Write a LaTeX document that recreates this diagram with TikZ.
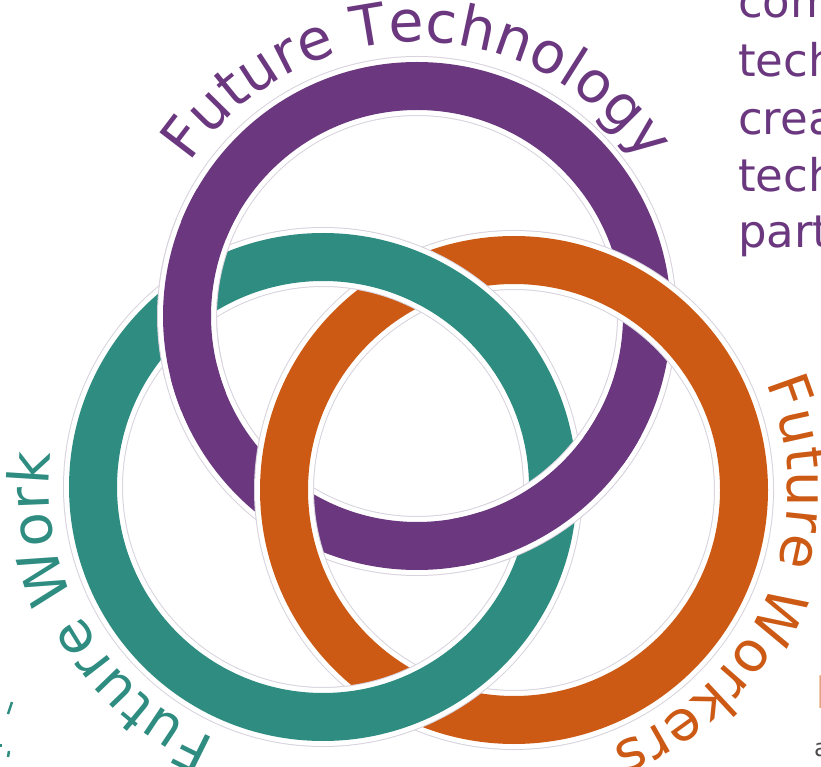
\documentclass[tikz,border=0pt]{standalone}
\usepackage{fontspec}
\usetikzlibrary{decorations.text}
\newfontfamily\ringfont{DejaVu Sans}
\definecolor{purpC}{RGB}{107,56,128}
\definecolor{tealC}{RGB}{46,140,128}
\definecolor{oranC}{RGB}{204,90,20}
\definecolor{edgeC}{RGB}{215,210,220}
\begin{document}
\begin{tikzpicture}[x=1pt,y=1pt,
  ring/.style={preaction={draw=edgeC,line width=60pt},preaction={draw=white,line width=58pt},line width=48pt},
  halo/.style={preaction={draw=edgeC,line width=60pt},draw=white,line width=58pt},
  band/.style={line width=48pt},
  ringtext/.style={decorate,decoration={text along path,text align=fit to path,text color=#1}},
  sidetext/.style={font=\ringfont\fontsize{45}{50}\selectfont,text=purpC,anchor=base west,inner sep=0pt}]
\useasboundingbox (0,0) rectangle (821,766);
\clip (0,0) rectangle (821,766);
\coordinate (P) at (417,450);
\coordinate (T) at (323,279);
\coordinate (O) at (514,276);
% rings
\draw[ring,draw=purpC] (P) circle[radius=230];
\draw[ring,draw=oranC] (O) circle[radius=230];
\draw[ring,draw=tealC] (T) circle[radius=230];
% purple passes over teal at both crossings
\draw[halo] ([shift={(158:230)}]P) arc[start angle=158,end angle=194,radius=230];
\draw[halo] ([shift={(-72:230)}]P) arc[start angle=-72,end angle=-36,radius=230];
\draw[band,draw=purpC] ([shift={(150:230)}]P) arc[start angle=150,end angle=202,radius=230];
\draw[band,draw=purpC] ([shift={(-80:230)}]P) arc[start angle=-80,end angle=-28,radius=230];
% curved labels
\path[ringtext=purpC,decoration={text={|\ringfont\fontsize{57}{62}\selectfont|Future Technology}}]
  ([shift={(146:274)}]P) arc[start angle=146,end angle=34,radius=274];
\path[ringtext=oranC,decoration={text={|\ringfont\fontsize{56}{62}\selectfont|Future Workers}}]
  ([shift={(23:274)}]O) arc[start angle=23,end angle=-69,radius=274];
\path[ringtext=tealC,decoration={text={|\ringfont\fontsize{56}{62}\selectfont|Future Work}}]
  ([shift={(247:274)}]T) arc[start angle=247,end angle=173,radius=274];
% cut-off side text
\node[sidetext] (s1) at (738,748) {com};
\node[sidetext] (s2) at (738,689) {tech};
\node[sidetext] (s3) at (738,631) {crea};
\node[sidetext] (s4) at (738,574) {tech};
\node[sidetext] (s5) at (738,518) {part};
% fragments of cut-off text at the edges
\node[font=\ringfont\fontsize{45}{50}\selectfont,text=oranC!55,anchor=base west,inner sep=0pt] (f1) at (815,58) {I};
\node[font=\ringfont\fontsize{24}{28}\selectfont,text=black!70,anchor=base west,inner sep=0pt] (f2) at (814,10) {a};
\draw[tealC,line width=2.5pt] (12,64) -- (8,52);
\draw[tealC,line width=2.5pt] (1,22) -- (1,19);
\draw[tealC,line width=2.5pt] (9,15) -- (8,9);
\end{tikzpicture}
\end{document}
